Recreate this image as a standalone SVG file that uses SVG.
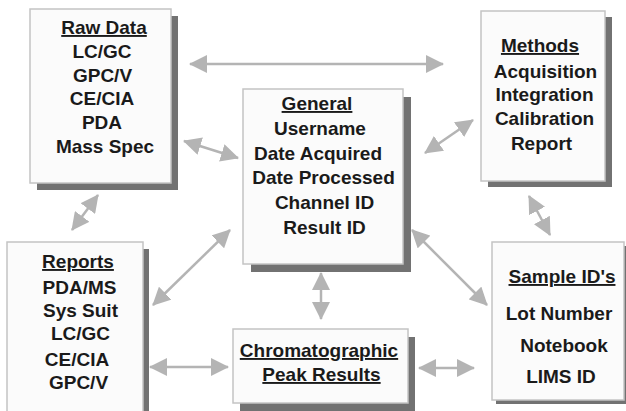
<svg xmlns="http://www.w3.org/2000/svg" width="626" height="411" viewBox="0 0 626 411">
<style>
.shadow{fill:#727272}
.box{fill:#fbfbfb;stroke:#c4c4c4;stroke-width:1.5}
text{font-family:"Liberation Sans",Arial,sans-serif;font-weight:bold;font-size:19px;fill:#1a1a1a;text-anchor:middle}
.h{text-decoration:underline}
.arr{stroke:#b4b4b4;stroke-width:2.5;fill:none;marker-start:url(#ah);marker-end:url(#ah)}
</style>
<defs>
<marker id="ah" markerUnits="userSpaceOnUse" markerWidth="18" markerHeight="18" viewBox="0 0 18 18" refX="17" refY="9" orient="auto-start-reverse">
<path d="M0,0 L18,9 L0,18 z" fill="#b4b4b4"/>
</marker>
</defs>
<rect width="626" height="411" fill="#ffffff"/>
<g id="connectors">
<line class="arr" x1="190" y1="64" x2="443" y2="64"/>
<line class="arr" x1="184" y1="141" x2="238" y2="158"/>
<line class="arr" x1="425" y1="153" x2="473" y2="120"/>
<line class="arr" x1="98" y1="195" x2="72" y2="230"/>
<line class="arr" x1="230" y1="230" x2="153" y2="305"/>
<line class="arr" x1="321" y1="273" x2="321" y2="319"/>
<line class="arr" x1="150" y1="367" x2="228" y2="367"/>
<line class="arr" x1="419" y1="368" x2="474" y2="368"/>
<line class="arr" x1="529" y1="196" x2="550" y2="235"/>
<line class="arr" x1="412" y1="230" x2="487" y2="305"/>
</g>
<g id="raw-data">
<rect class="shadow" x="37" y="16" width="141" height="174"/>
<rect class="box" x="30" y="9" width="141" height="174"/>
<text class="h" x="104" y="34">Raw Data</text>
<text x="102" y="58">LC/GC</text>
<text x="102.5" y="82">GPC/V</text>
<text x="102" y="105">CE/CIA</text>
<text x="102" y="129">PDA</text>
<text x="105" y="153">Mass Spec</text>
</g>
<g id="general">
<rect class="shadow" x="251" y="97" width="160" height="175"/>
<rect class="box" x="243" y="89" width="160" height="175"/>
<text class="h" x="317" y="110">General</text>
<text x="320" y="135">Username</text>
<text x="318" y="160">Date Acquired</text>
<text x="323.5" y="184">Date Processed</text>
<text x="324.5" y="209">Channel ID</text>
<text x="324.5" y="234">Result ID</text>
</g>
<g id="methods">
<rect class="shadow" x="488" y="17" width="124" height="170"/>
<rect class="box" x="481" y="11" width="124" height="170"/>
<text class="h" x="540" y="52">Methods</text>
<text x="545.5" y="78">Acquisition</text>
<text x="544.5" y="101">Integration</text>
<text x="544.5" y="125">Calibration</text>
<text x="541.5" y="150">Report</text>
</g>
<g id="reports">
<rect class="shadow" x="13" y="249" width="136" height="175"/>
<rect class="box" x="7" y="242" width="136" height="175"/>
<text class="h" x="78" y="268">Reports</text>
<text x="79.5" y="294">PDA/MS</text>
<text x="80.5" y="317">Sys Suit</text>
<text x="80.5" y="340">LC/GC</text>
<text x="77" y="366">CE/CIA</text>
<text x="78.5" y="389">GPC/V</text>
</g>
<g id="chromatographic">
<rect class="shadow" x="240" y="337" width="175" height="74"/>
<rect class="box" x="233" y="329" width="175" height="74"/>
<text class="h" x="319" y="357">Chromatographic</text>
<text class="h" x="321.5" y="381">Peak Results</text>
</g>
<g id="sample-ids">
<rect class="shadow" x="496" y="246" width="132" height="158"/>
<rect class="box" x="492" y="242" width="132" height="158"/>
<text class="h" x="562" y="283">Sample ID's</text>
<text x="559" y="320">Lot Number</text>
<text x="564" y="352">Notebook</text>
<text x="561" y="383">LIMS ID</text>
</g>
</svg>
